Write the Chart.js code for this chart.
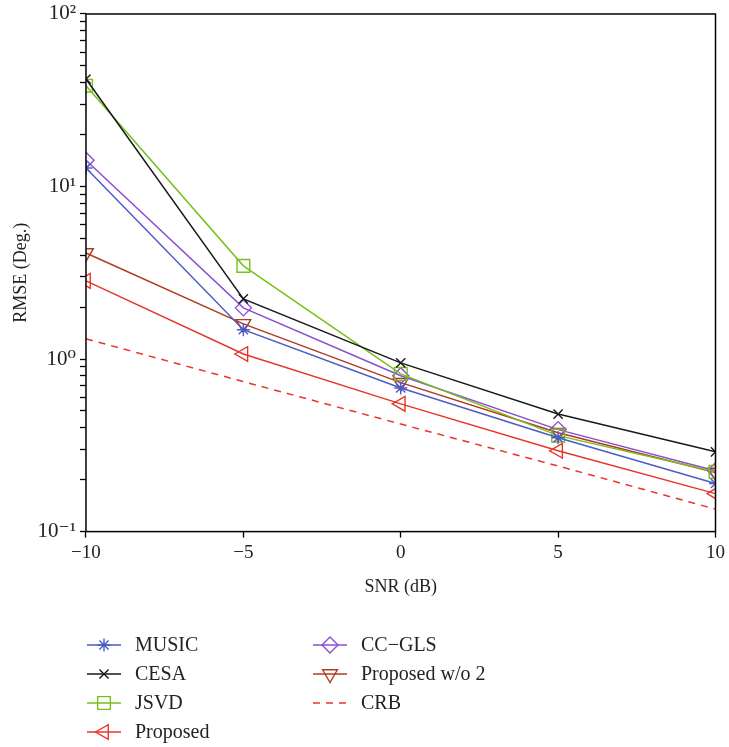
<!doctype html>
<html lang="en">
<head>
<meta charset="utf-8">
<title>RMSE vs SNR</title>
<style>
  * { margin: 0; padding: 0; }
  body { background: #fff; }
  .chartBox { width: 729px; height: 747px; position: relative; }
</style>
</head>
<body>
<div class="chartBox"><canvas id="myChart"></canvas></div>
<script src="https://cdn.jsdelivr.net/npm/chart.js/dist/chart.umd.min.js"></script>
<script>
// data
const snr = [-10, -5, 0, 5, 10];
const music = [12.8, 1.48, 0.68, 0.35, 0.19];
const cesa = [42, 2.23, 0.95, 0.48, 0.29];
const jsvd = [38.4, 3.47, 0.82, 0.36, 0.222];
const proposed = [2.84, 1.07, 0.55, 0.294, 0.166];
const ccgls = [14.2, 1.98, 0.8, 0.39, 0.225];
const proposedWo2 = [4.12, 1.6, 0.73, 0.374, 0.22];
const crb = [1.31, 0.74, 0.42, 0.24, 0.135];
const yTicks = [0.1, 0.2, 0.3, 0.4, 0.5, 0.6, 0.7, 0.8, 0.9, 1, 2, 3, 4, 5, 6, 7, 8, 9, 10, 20, 30, 40, 50, 60, 70, 80, 90, 100];
const yLabels = { 0.1: '10\u207B\u00B9', 1: '10\u2070', 10: '10\u00B9', 100: '10\u00B2' };

const FONT = "'Liberation Serif', 'DejaVu Serif', serif";

function series(label, data, color, style, radius, rotation, dash) {
    return {
        label: label,
        data: data.map((v, i) => ({ x: snr[i], y: v })),
        borderColor: color,
        backgroundColor: 'rgba(0,0,0,0)',
        borderWidth: 1.5,
        borderDash: dash || [],
        pointStyle: style,
        rotation: rotation || 0,
        pointRadius: style ? radius : 0,
        pointBorderWidth: 1.4,
        pointBorderColor: color,
        pointBackgroundColor: 'rgba(0,0,0,0)',
        tension: 0
    };
}

const datasets = [
    series('MUSIC', music, '#4b5cc4', 'star', 6.5),
    series('CESA', cesa, '#1a1a1a', 'crossRot', 6.5),
    series('JSVD', jsvd, '#78c01e', 'rect', 9),
    series('Proposed', proposed, '#e8352b', 'triangle', 8.5, -90),
    series('CC\u2212GLS', ccgls, '#8a4fd0', 'rectRot', 8),
    series('Proposed w/o 2', proposedWo2, '#b23a1f', 'triangle', 8.5, 180),
    series('CRB', crb, '#e8352b', false, 0, 0, [7, 6])
];

// box around the plot area
const frame = {
    id: 'frame',
    afterDatasetsDraw(chart) {
        const a = chart.chartArea, ctx = chart.ctx;
        ctx.save();
        ctx.strokeStyle = '#000';
        ctx.lineWidth = 1.5;
        ctx.strokeRect(a.left, a.top, a.right - a.left, a.bottom - a.top);
        ctx.restore();
    }
};

// legend in two columns below the axis title
const legendBox = {
    id: 'legendBox',
    afterDraw(chart) {
        const ctx = chart.ctx;
        const cols = [87, 313];
        const rows = [645, 674, 703, 732];
        ctx.save();
        chart.data.datasets.forEach((ds, i) => {
            const x = cols[Math.floor(i / 4)], y = rows[i % 4];
            ctx.strokeStyle = ds.borderColor;
            ctx.lineWidth = 1.5;
            ctx.setLineDash(ds.borderDash);
            ctx.beginPath();
            ctx.moveTo(x, y);
            ctx.lineTo(x + 34, y);
            ctx.stroke();
            ctx.setLineDash([]);
            if (ds.pointStyle) {
                ctx.fillStyle = 'rgba(0,0,0,0)';
                ctx.lineWidth = 1.4;
                Chart.helpers.drawPoint(ctx, {
                    pointStyle: ds.pointStyle,
                    rotation: ds.rotation,
                    radius: ds.pointRadius,
                    borderWidth: 1.4
                }, x + 17, y);
            }
            ctx.fillStyle = '#222';
            ctx.font = '20px ' + FONT;
            ctx.textBaseline = 'middle';
            ctx.fillText(ds.label, x + 48, y + 1);
        });
        ctx.restore();
    }
};

new Chart(document.getElementById('myChart'), {
    type: 'line',
    data: { datasets: datasets },
    options: {
        responsive: true,
        maintainAspectRatio: false,
        animation: false,
        layout: { padding: { top: 0, right: 3, bottom: 145, left: 6 } },
        plugins: { legend: { display: false }, tooltip: { enabled: false } },
        scales: {
            x: {
                type: 'linear',
                min: -10,
                max: 10,
                border: { display: false },
                grid: { drawOnChartArea: false, tickLength: 6, tickColor: '#000', tickWidth: 1.3 },
                ticks: {
                    stepSize: 5,
                    color: '#222',
                    font: { family: FONT, size: 19 },
                    padding: 4,
                    callback: v => v < 0 ? '\u2212' + Math.abs(v) : String(v)
                },
                title: { display: true, text: 'SNR (dB)', color: '#222', font: { family: FONT, size: 18 }, padding: { top: 8 } }
            },
            y: {
                type: 'logarithmic',
                min: 0.1,
                max: 100,
                border: { display: false },
                grid: {
                    drawOnChartArea: false,
                    tickColor: '#000',
                    tickWidth: 1.3,
                    tickLength: 6
                },
                afterBuildTicks: axis => { axis.ticks = yTicks.map(v => ({ value: v })); },
                ticks: {
                    autoSkip: false,
                    color: '#222',
                    font: { family: FONT, size: 21, lineHeight: 0.95 },
                    padding: 4,
                    callback: v => yLabels[v] || ''
                },
                title: { display: true, text: 'RMSE (Deg.)', color: '#222', font: { family: FONT, size: 18 }, padding: { bottom: 2 } }
            }
        }
    },
    plugins: [frame, legendBox]
});
</script>
</body>
</html>
